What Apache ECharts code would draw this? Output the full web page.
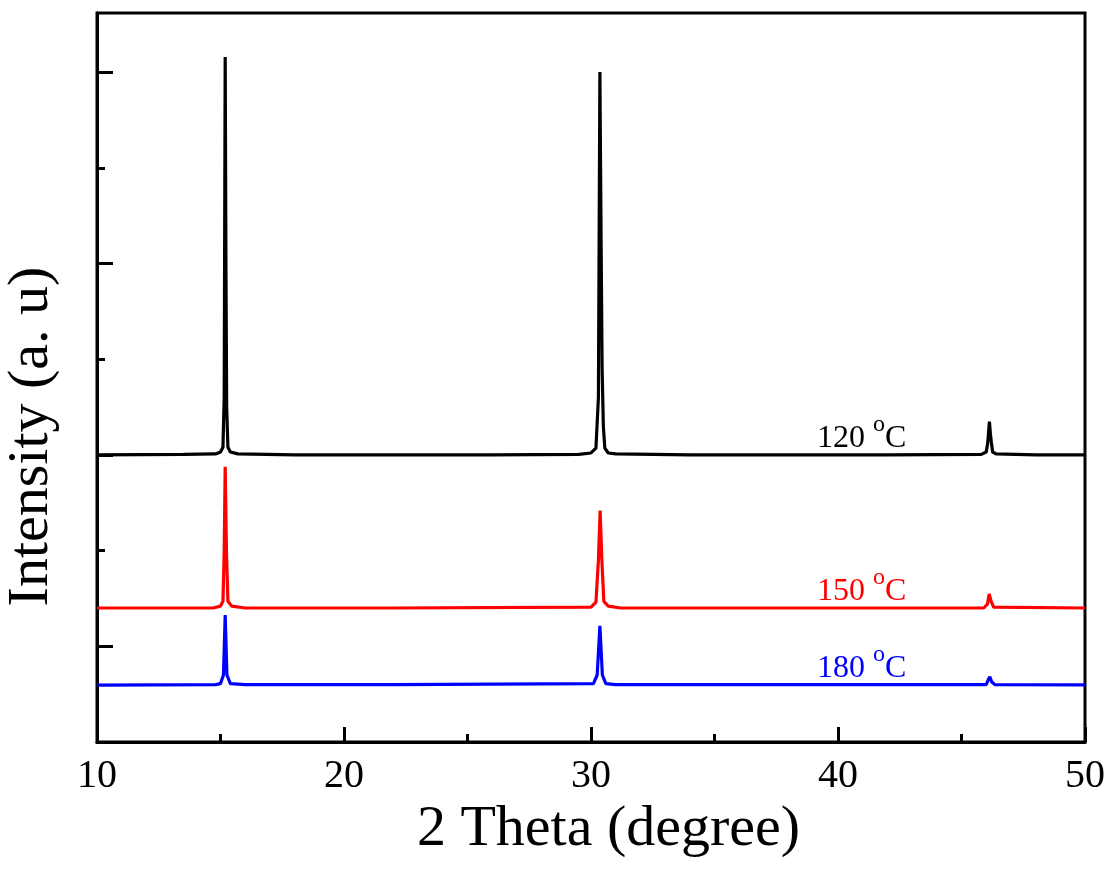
<!DOCTYPE html>
<html>
<head>
<meta charset="utf-8">
<script src="https://cdn.jsdelivr.net/npm/echarts@6/dist/echarts.min.js"></script>
<style>
html,body{margin:0;padding:0;background:#fff;}
#main{width:1112px;height:872px;}
</style>
</head>
<body>
<div id="main"></div>
<script>
// ---- data ----
const seriesNames = ['120 °C', '150 °C', '180 °C'];
const seriesColors = ['#000000', '#ff0000', '#0000ff'];

const x120 = [10, 13.5, 14.8, 15.0, 15.1, 15.15, 15.19, 15.22, 15.25, 15.3, 15.4, 15.7, 18, 22, 26, 29.5, 30.0, 30.2, 30.3, 30.36, 30.41, 30.45, 30.5, 30.56, 30.7, 31, 34, 38, 42, 45.8, 46.0, 46.06, 46.13, 46.17, 46.21, 46.26, 46.4, 48, 50];
const y120 = [3.0, 3.005, 3.01, 3.03, 3.08, 3.6, 7.157, 5.0, 3.5, 3.08, 3.03, 3.01, 3.0, 3.0, 3.0, 3.005, 3.02, 3.07, 3.6, 7.0, 5.2, 3.9, 3.3, 3.07, 3.02, 3.01, 3.0, 3.0, 3.0, 3.005, 3.03, 3.12, 3.347, 3.22, 3.13, 3.03, 3.01, 3.0, 3.0];

const x150 = [10, 14.7, 15.0, 15.1, 15.15, 15.19, 15.24, 15.3, 15.45, 16, 22, 30.0, 30.2, 30.3, 30.37, 30.44, 30.52, 30.7, 31.2, 38, 45.9, 46.05, 46.12, 46.2, 46.3, 50];
const y150 = [1.40, 1.40, 1.42, 1.47, 2.0, 2.876, 2.0, 1.47, 1.42, 1.40, 1.40, 1.41, 1.46, 1.9, 2.417, 1.9, 1.47, 1.42, 1.40, 1.40, 1.40, 1.44, 1.546, 1.47, 1.41, 1.40];

const x180 = [10, 14.8, 15.0, 15.12, 15.19, 15.26, 15.4, 16, 22, 30.1, 30.25, 30.36, 30.46, 30.6, 31, 38, 46.0, 46.1, 46.15, 46.22, 46.35, 50];
const y180 = [0.595, 0.60, 0.61, 0.70, 1.327, 0.70, 0.61, 0.60, 0.60, 0.61, 0.70, 1.215, 0.70, 0.61, 0.60, 0.60, 0.60, 0.66, 0.682, 0.63, 0.60, 0.596];

const xTicks = [10, 20, 30, 40, 50];
const yMajorTicks = [1, 3, 5, 7];
const yMinorTicks = [2, 4, 6];

// label anchors (data units): left edge x, bottom y
const labelX = [39.15, 39.15, 39.15];
const labelY = [3.0, 1.40, 0.596];

function pairs(xs, ys) { return xs.map((x, i) => [x, ys[i]]); }

const serif = '"Liberation Serif", "Times New Roman", serif';

const chart = echarts.init(document.getElementById('main'), null, {renderer: 'canvas'});

const seriesData = [pairs(x120, y120), pairs(x150, y150), pairs(x180, y180)];

const series = seriesData.map((d, i) => ({
  type: 'line',
  name: seriesNames[i],
  data: d,
  xAxisIndex: 0,
  yAxisIndex: 0,
  showSymbol: false,
  symbol: 'none',
  smooth: false,
  lineStyle: {color: seriesColors[i], width: 3.2},
  z: 3 - i,
  animation: false,
  markPoint: {
    symbol: 'rect',
    symbolSize: 0,
    animation: false,
    silent: true,
    data: [{
      coord: [labelX[i], labelY[i]],
      label: {
        show: true,
        position: [0, 0],
        align: 'left',
        verticalAlign: 'bottom',
        formatter: '{n|' + seriesNames[i].split(' ')[0] + ' }{s|o}{n|C}',
        rich: {
          n: {fontFamily: serif, fontSize: 32, lineHeight: 42, color: seriesColors[i], verticalAlign: 'bottom'},
          s: {fontFamily: serif, fontSize: 24, lineHeight: 24, color: seriesColors[i], verticalAlign: 'top'}
        }
      }
    }]
  }
}));

const option = {
  backgroundColor: '#ffffff',
  animation: false,
  grid: {left: 97, right: 27, top: 13, bottom: 130, show: true, borderColor: '#000', borderWidth: 3, backgroundColor: 'transparent', containLabel: false, outerBoundsMode: 'none'},
  xAxis: {
    type: 'value',
    min: 10, max: 50, interval: 10,
    name: '2 Theta (degree)',
    nameLocation: 'middle',
    nameGap: 58,
    nameTextStyle: {fontFamily: serif, fontSize: 58, color: '#000', padding: [0, 0, 0, 35]},
    axisLine: {show: true, lineStyle: {color: '#000', width: 3}},
    axisTick: {show: true, inside: true, length: 15, lineStyle: {color: '#000', width: 3}, customValues: xTicks},
    minorTick: {show: true, splitNumber: 2, length: 8, lineStyle: {color: '#000', width: 3}},
    axisLabel: {show: true, fontFamily: serif, fontSize: 40, color: '#000', margin: 14, customValues: xTicks},
    splitLine: {show: false},
    minorSplitLine: {show: false}
  },
  yAxis: [{
    type: 'value',
    min: 0, max: 7.617,
    name: 'Intensity (a. u)',
    nameLocation: 'middle',
    nameRotate: 90,
    nameGap: 36,
    nameTextStyle: {fontFamily: serif, fontSize: 58, color: '#000', padding: [0, 118, 0, 0]},
    axisLine: {show: true, lineStyle: {color: '#000', width: 3}},
    axisTick: {show: true, inside: true, length: 16, lineStyle: {color: '#000', width: 3}, customValues: yMajorTicks},
    axisLabel: {show: false},
    splitLine: {show: false}
  }, {
    type: 'value',
    position: 'left',
    min: 0, max: 7.617,
    axisLine: {show: false},
    axisTick: {show: true, inside: true, length: 8, lineStyle: {color: '#000', width: 3}, customValues: yMinorTicks},
    axisLabel: {show: false},
    splitLine: {show: false}
  }],
  series: series
};

chart.setOption(option);
</script>
</body>
</html>
